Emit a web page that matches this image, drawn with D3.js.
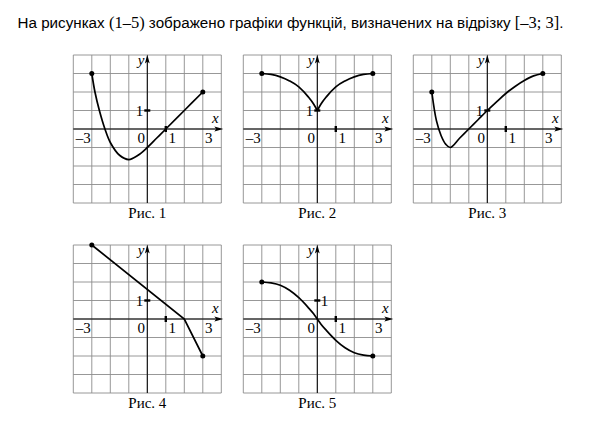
<!DOCTYPE html>
<html>
<head>
<meta charset="utf-8">
<script src="https://cdn.jsdelivr.net/npm/d3@7"></script>
<style>
  body { margin: 0; background: #fff; }
  svg { display: block; }
</style>
</head>
<body>
<div id="chart"></div>
<script>
// values
const figNames = ['Рис. 1', 'Рис. 2', 'Рис. 3', 'Рис. 4', 'Рис. 5'];
const gridTicks = [-4, -3, -2, -1, 0, 1, 2, 3, 4];

const fig1 = [[-3, 3], [-2.83, 2], [-2.59, 1], [-2.29, 0], [-2, -0.73], [-1.5, -1.42],
              [-1, -1.65], [-0.5, -1.42], [0, -1], [0.5, -0.5], [1, 0], [2, 1], [3, 2]];
const fig2Left = [[-3, 3], [-2.5, 2.95], [-2, 2.82], [-1.5, 2.6], [-1, 2.28], [-0.5, 1.75], [-0.2, 1.35], [0, 1]];
const fig2Right = [[0, 1], [0.2, 1.35], [0.5, 1.75], [1, 2.28], [1.5, 2.6], [2, 2.82], [2.5, 2.95], [3, 3]];
const fig3 = [[-3, 2], [-2.75, 0.45], [-2.5, -0.35], [-2.25, -0.82], [-2, -1], [-1.5, -0.5], [-1, 0],
              [-0.5, 0.5], [0, 1], [0.5, 1.47], [1, 1.92], [1.5, 2.3], [2, 2.62], [2.5, 2.87], [3, 3]];
const fig4 = [[-3, 4], [2, 0], [3, -2]];
const fig5 = [[-3, 2], [-2.5, 1.95], [-2, 1.82], [-1.5, 1.55], [-1, 1.15], [-0.5, 0.63], [-0.2, 0.28], [0, 0],
              [0.2, -0.28], [0.5, -0.63], [1, -1.15], [1.5, -1.55], [2, -1.82], [2.5, -1.95], [3, -2]];

const endDots = [
  [[-3, 3], [3, 2]],
  [[-3, 3], [3, 3]],
  [[-3, 2], [3, 3]],
  [[-3, 4], [3, -2]],
  [[-3, 2], [3, -2]]
];

const W = 599, H = 426;
const size = 148;
const panelPos = [[73.3, 55], [243.3, 55], [413.3, 55], [73.3, 245], [243.3, 245]];

const svg = d3.select('#chart').append('svg')
  .attr('width', W)
  .attr('height', H);

// title, sans with serif bits like the source
const title = svg.append('text')
  .attr('x', 17.5)
  .attr('y', 28)
  .attr('font-family', 'Liberation Sans, Arial, sans-serif')
  .attr('font-size', '15.2px')
  .attr('fill', '#000');
title.append('tspan').text('На рисунках ');
title.append('tspan').attr('font-family', 'Liberation Serif, serif').attr('font-size', '16.5px').text('(1–5)');
title.append('tspan').text(' зображено графіки функцій, визначених на відрізку ');
title.append('tspan').attr('font-family', 'Liberation Serif, serif').attr('font-size', '16.5px').text('[–3; 3]');
title.append('tspan').text('.');

const x = d3.scaleLinear().domain([-4, 4]).range([0, size]);
const y = d3.scaleLinear().domain([-4, 4]).range([size, 0]);

const lineLinear = d3.line().x(d => x(d[0])).y(d => y(d[1]));
const lineSmooth = d3.line().x(d => x(d[0])).y(d => y(d[1])).curve(d3.curveMonotoneX);
const lineCatmull = d3.line().x(d => x(d[0])).y(d => y(d[1])).curve(d3.curveCatmullRom.alpha(0.5));

const curves = [
  [lineCatmull(fig1)],
  [lineSmooth(fig2Left), lineSmooth(fig2Right)],
  [lineCatmull(fig3)],
  [lineLinear(fig4)],
  [lineSmooth(fig5)]
];

const serif = 'Liberation Serif, Times New Roman, serif';

function drawPanel(i) {
  const g = svg.append('g')
    .attr('transform', `translate(${panelPos[i][0]}, ${panelPos[i][1]})`);

  // grid
  g.append('g').selectAll('line.v')
    .data(gridTicks).enter().append('line')
      .attr('x1', d => x(d)).attr('x2', d => x(d))
      .attr('y1', 0).attr('y2', size)
      .attr('stroke', '#8c8c8c').attr('stroke-width', 0.9);
  g.append('g').selectAll('line.h')
    .data(gridTicks).enter().append('line')
      .attr('y1', d => y(d)).attr('y2', d => y(d))
      .attr('x1', 0).attr('x2', size)
      .attr('stroke', '#8c8c8c').attr('stroke-width', 0.9);

  // axes
  g.append('line')
    .attr('x1', 0).attr('x2', size - 4)
    .attr('y1', y(0)).attr('y2', y(0))
    .attr('stroke', '#000').attr('stroke-width', 1);
  g.append('path')
    .attr('d', `M${size + 2},${y(0)} L${size - 7},${y(0) - 2.4} L${size - 5},${y(0)} L${size - 7},${y(0) + 2.4} Z`)
    .attr('fill', '#000');
  g.append('line')
    .attr('x1', x(0)).attr('x2', x(0))
    .attr('y1', size).attr('y2', 5)
    .attr('stroke', '#000').attr('stroke-width', 1);
  g.append('path')
    .attr('d', `M${x(0)},${-0.5} L${x(0) - 2.4},${8.5} L${x(0)},${6.5} L${x(0) + 2.4},${8.5} Z`)
    .attr('fill', '#000');

  // unit ticks
  g.append('rect')
    .attr('x', x(1) - 1.2).attr('y', y(0) - 3)
    .attr('width', 2.4).attr('height', 6)
    .attr('fill', '#000');
  g.append('rect')
    .attr('x', x(0) - 3).attr('y', y(1) - 1.2)
    .attr('width', 6).attr('height', 2.4)
    .attr('fill', '#000');

  const lab = (tx, ty, txt, anchor, italic) => g.append('text')
    .attr('x', tx).attr('y', ty)
    .attr('text-anchor', anchor)
    .attr('font-family', serif)
    .attr('font-size', '15px')
    .attr('font-style', italic ? 'italic' : 'normal')
    .attr('fill', '#000')
    .text(txt);

  const base = y(0) + 13.5;
  lab(x(-3) - 1, base, '–3', 'end');
  lab(x(0) - 6, base, '0', 'middle');
  lab(x(1) + 6.5, base, '1', 'middle');
  lab(x(3) + 6, base, '3', 'middle');
  if (i === 4) lab(x(0) + 3.5, y(1) + 5, '1', 'start');
  else lab(x(0) - 4, y(1) + 5, '1', 'end');
  lab(size - 6, y(0) - 6, 'x', 'middle', true);
  lab(x(0) - 3, 10, 'y', 'end', true);

  // graph
  curves[i].forEach(dStr => {
    g.append('path')
      .attr('d', dStr)
      .attr('fill', 'none')
      .attr('stroke', '#000')
      .attr('stroke-width', 1.7);
  });

  g.selectAll('circle')
    .data(endDots[i]).enter().append('circle')
      .attr('cx', d => x(d[0]))
      .attr('cy', d => y(d[1]))
      .attr('r', 2.5)
      .attr('fill', '#000');

  g.append('text')
    .attr('x', size / 2)
    .attr('y', size + 14.5)
    .attr('text-anchor', 'middle')
    .attr('font-family', serif)
    .attr('font-size', '15px')
    .attr('fill', '#000')
    .text(figNames[i]);
}

figNames.forEach((_, i) => drawPanel(i));
</script>
</body>
</html>
